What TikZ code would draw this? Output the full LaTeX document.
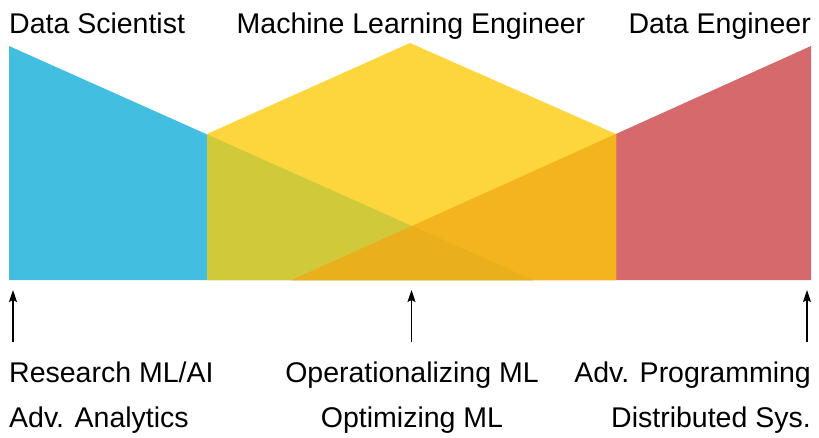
\documentclass[tikz,border=0pt]{standalone}
\usepackage{fontspec}
\setmainfont{Liberation Sans}
\usetikzlibrary{arrows.meta}
\definecolor{dsblue}{HTML}{42BEE0}
\definecolor{mlyellow}{HTML}{FDD63E}
\definecolor{mixgreen}{HTML}{D0CA3B}
\definecolor{mixorange}{HTML}{F3B41E}
\definecolor{mixtriple}{HTML}{EAAF1D}
\definecolor{dered}{HTML}{D6696B}
\begin{document}
\begin{tikzpicture}[x=1pt,y=-1pt,
  lbl/.style={inner sep=0pt,font=\fontsize{28.5pt}{34pt}\selectfont,text=black},
  uparrow/.style={-{Stealth[length=12pt,width=8pt,inset=2pt]},line width=1.6pt,black}]
\useasboundingbox (0,0) rectangle (819,437);
% shapes
\fill[dsblue] (9,46) -- (533,280) -- (9,280) -- cycle;
\fill[dered] (811,46) -- (811,280) -- (292,280) -- cycle;
\fill[mlyellow] (207,134) -- (410,43) -- (616,134) -- (616,280) -- (207,280) -- cycle;
\begin{scope}
  \clip (207,134) -- (410,43) -- (616,134) -- (616,280) -- (207,280) -- cycle;
  \fill[mixgreen] (9,46) -- (533,280) -- (9,280) -- cycle;
  \fill[mixorange] (811,46) -- (811,280) -- (292,280) -- cycle;
  \clip (9,46) -- (533,280) -- (9,280) -- cycle;
  \fill[mixtriple] (811,46) -- (811,280) -- (292,280) -- cycle;
\end{scope}
% titles
\node[lbl,anchor=base west] (ds) at (9,33) {Data Scientist};
\node[lbl,anchor=base] (mle) at (411,33) {Machine Learning Engineer};
\node[lbl,anchor=base east] (de) at (811,33) {Data Engineer};
% arrows
\coordinate (a1s) at (13,342); \coordinate (a1e) at (13,290);
\coordinate (a2s) at (411.5,342); \coordinate (a2e) at (411.5,290);
\coordinate (a3s) at (807,342); \coordinate (a3e) at (807,290);
\draw[uparrow] (a1s) -- (a1e);
\draw[uparrow] (a2s) -- (a2e);
\draw[uparrow] (a3s) -- (a3e);
% bottom labels
\node[lbl,anchor=base west] (r1) at (9,382) {Research ML/AI};
\node[lbl,anchor=base west] (r2) at (9,427) {Adv. Analytics};
\node[lbl,anchor=base] (o1) at (412,382) {Operationalizing ML};
\node[lbl,anchor=base] (o2) at (412,427) {Optimizing ML};
\node[lbl,anchor=base east] (p1) at (811,382) {Adv. Programming};
\node[lbl,anchor=base east] (p2) at (811,427) {Distributed Sys.};
\end{tikzpicture}
\end{document}
